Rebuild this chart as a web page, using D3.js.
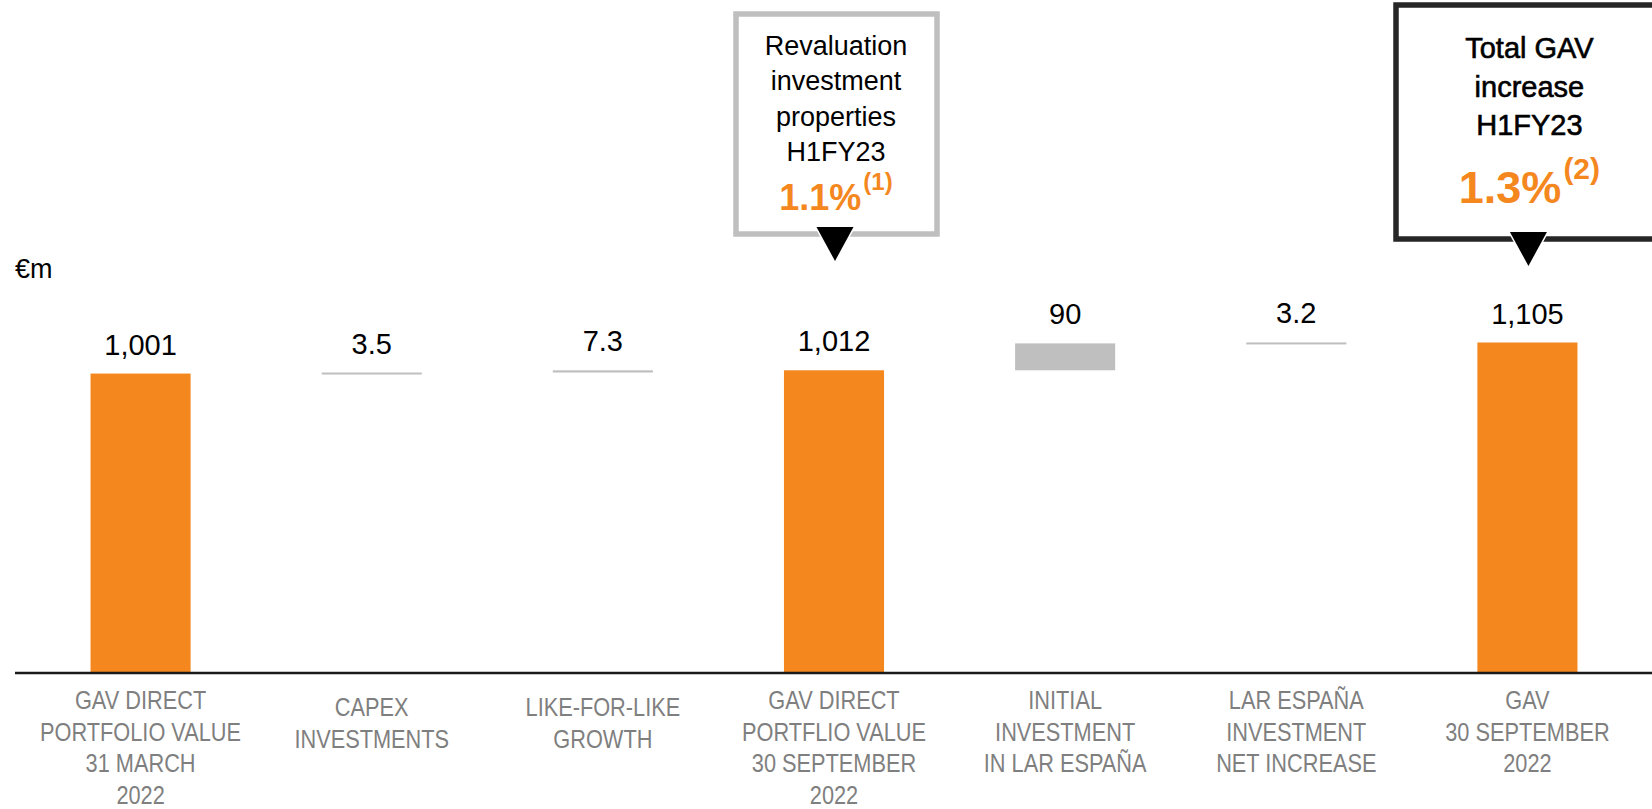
<!DOCTYPE html>
<html>
<head>
<meta charset="utf-8">
<script src="https://cdn.jsdelivr.net/npm/d3@7"></script>
<style>
  body { margin: 0; background: #fff; }
  svg { display: block; }
</style>
</head>
<body>
<svg id="chart"></svg>
<script>
// waterfall data (EUR m)
var categories = [
  ["GAV DIRECT", "PORTFOLIO VALUE", "31 MARCH", "2022"],
  ["CAPEX", "INVESTMENTS"],
  ["LIKE-FOR-LIKE", "GROWTH"],
  ["GAV DIRECT", "PORTFLIO VALUE", "30 SEPTEMBER", "2022"],
  ["INITIAL", "INVESTMENT", "IN LAR ESPAÑA"],
  ["LAR ESPAÑA", "INVESTMENT", "NET INCREASE"],
  ["GAV", "30 SEPTEMBER", "2022"]
];
var values = [1001, 3.5, 7.3, 1012, 90, 3.2, 1105];
var kinds = ["total", "step", "step", "total", "step", "step", "total"];
var valueLabels = ["1,001", "3.5", "7.3", "1,012", "90", "3.2", "1,105"];

var callout1Lines = ["Revaluation", "investment", "properties", "H1FY23"];
var callout1Pct = "1.1%";
var callout1Note = "(1)";
var callout2Lines = ["Total GAV", "increase", "H1FY23"];
var callout2Pct = "1.3%";
var callout2Note = "(2)";

var screen = { width: 1652, height: 809 };
var orange = "#F5871F";
var grey = "#BFBFBF";

// build waterfall rows
var running = 0;
var rows = values.map(function(v, i) {
  var row;
  if (kinds[i] == "total") {
    row = { base: 0, top: v };
    running = v;
  } else {
    row = { base: running, top: running + v };
    running = running + v;
  }
  row.kind = kinds[i];
  row.label = valueLabels[i];
  row.i = i;
  return row;
});

var svg = d3.select("#chart")
  .attr("width", screen.width)
  .attr("height", screen.height);

var xScale = d3.scaleBand()
  .domain(d3.range(values.length))
  .range([25, 1643])
  .paddingInner(0.567)
  .paddingOuter(0.2835);

var yScale = d3.scaleLinear()
  .domain([0, 1105])
  .range([672.5, 342.5]);

// bars
svg.append("g").selectAll("rect")
  .data(rows)
  .enter()
  .append("rect")
  .attr("x", function(d) { return xScale(d.i); })
  .attr("width", xScale.bandwidth())
  .attr("y", function(d) { return yScale(d.top); })
  .attr("height", function(d) { return Math.max(2, yScale(d.base) - yScale(d.top)); })
  .attr("fill", function(d) { return d.kind == "total" ? orange : grey; });

// value labels
svg.append("g").selectAll("text")
  .data(rows)
  .enter()
  .append("text")
  .attr("x", function(d) { return xScale(d.i) + xScale.bandwidth() / 2; })
  .attr("y", function(d) { return yScale(d.top) - 19; })
  .attr("text-anchor", "middle")
  .style("font-family", "'Liberation Sans', Arial, sans-serif")
  .style("font-size", "29px")
  .attr("fill", "#000")
  .text(function(d) { return d.label; });

// baseline
svg.append("line")
  .attr("x1", 15).attr("x2", screen.width)
  .attr("y1", yScale(0) + 0.5).attr("y2", yScale(0) + 0.5)
  .attr("stroke", "#1a1a1a")
  .attr("stroke-width", 2.5);

// category labels via bottom axis (squeezed to look condensed)
var xAxis = d3.axisBottom(xScale).tickSize(0).tickFormat("");
var xAxisGraphic = svg.append("g")
  .attr("transform", "translate(0," + yScale(0) + ")")
  .call(xAxis);
xAxisGraphic.select(".domain").remove();
xAxisGraphic.selectAll(".tick text")
  .attr("y", 0)
  .attr("dy", null)
  .attr("transform", "scale(0.87,1)")
  .style("font-family", "'Liberation Sans', Arial, sans-serif")
  .style("font-size", "25px")
  .attr("fill", "#7F7F7F")
  .each(function(d) {
    var lines = categories[d];
    var shift = lines.length == 2 ? 7 : 0;
    var t = d3.select(this);
    lines.forEach(function(line, k) {
      t.append("tspan")
        .attr("x", 0)
        .attr("y", 37 + shift + k * 31.5)
        .text(line);
    });
  });

// unit
svg.append("text")
  .attr("x", 15).attr("y", 278)
  .style("font-family", "'Liberation Sans', Arial, sans-serif")
  .style("font-size", "27px")
  .text("€m");

// callouts
var drawCallout = function(cfg) {
  var g = svg.append("g");
  var cx = xScale(cfg.index) + xScale.bandwidth() / 2;
  g.append("rect")
    .attr("x", cfg.left).attr("y", cfg.top)
    .attr("width", cfg.right - cfg.left).attr("height", cfg.bottom - cfg.top)
    .attr("fill", "#fff")
    .attr("stroke", cfg.stroke)
    .attr("stroke-width", 5.5);

  cfg.lines.forEach(function(line, k) {
    g.append("text")
      .attr("x", cx + 2).attr("y", cfg.firstLine + k * cfg.lineGap)
      .attr("text-anchor", "middle")
      .style("font-family", "'Liberation Sans', Arial, sans-serif")
      .style("font-size", cfg.fontSize + "px")
      .attr("fill", "#000")
      .attr("stroke", "#000")
      .attr("stroke-width", cfg.weight)
      .text(line);
  });

  var pct = g.append("text")
    .attr("x", cx + 2).attr("y", cfg.pctY)
    .attr("text-anchor", "middle")
    .style("font-family", "'Liberation Sans', Arial, sans-serif")
    .style("font-weight", "bold")
    .attr("fill", orange);
  pct.append("tspan").style("font-size", cfg.pctSize + "px").text(cfg.pct);
  pct.append("tspan").style("font-size", cfg.noteSize + "px")
    .attr("dx", 2)
    .attr("dy", -cfg.noteRise).text(cfg.note);

  // pointer triangle
  var tw = 37, th = 34;
  g.append("path")
    .attr("d", "M" + (cx + 1 - tw / 2) + "," + cfg.triTop +
               "L" + (cx + 1 + tw / 2) + "," + cfg.triTop +
               "L" + (cx + 1) + "," + (cfg.triTop + th) + "Z")
    .attr("fill", "#000")
    .attr("stroke", "#fff")
    .attr("stroke-width", 3)
    .attr("paint-order", "stroke");
};

drawCallout({
  index: 3, left: 736, right: 937, top: 14, bottom: 234,
  stroke: grey, lines: callout1Lines, fontSize: 27, weight: 0,
  firstLine: 55, lineGap: 35.3,
  pct: callout1Pct, note: callout1Note, pctY: 210, pctSize: 36, noteSize: 24, noteRise: 20,
  triTop: 227
});

drawCallout({
  index: 6, left: 1396, right: 1680, top: 5, bottom: 239,
  stroke: "#262626", lines: callout2Lines, fontSize: 29, weight: 0.6,
  firstLine: 58, lineGap: 38.5,
  pct: callout2Pct, note: callout2Note, pctY: 203, pctSize: 45, noteSize: 30, noteRise: 24,
  triTop: 232
});
</script>
</body>
</html>
